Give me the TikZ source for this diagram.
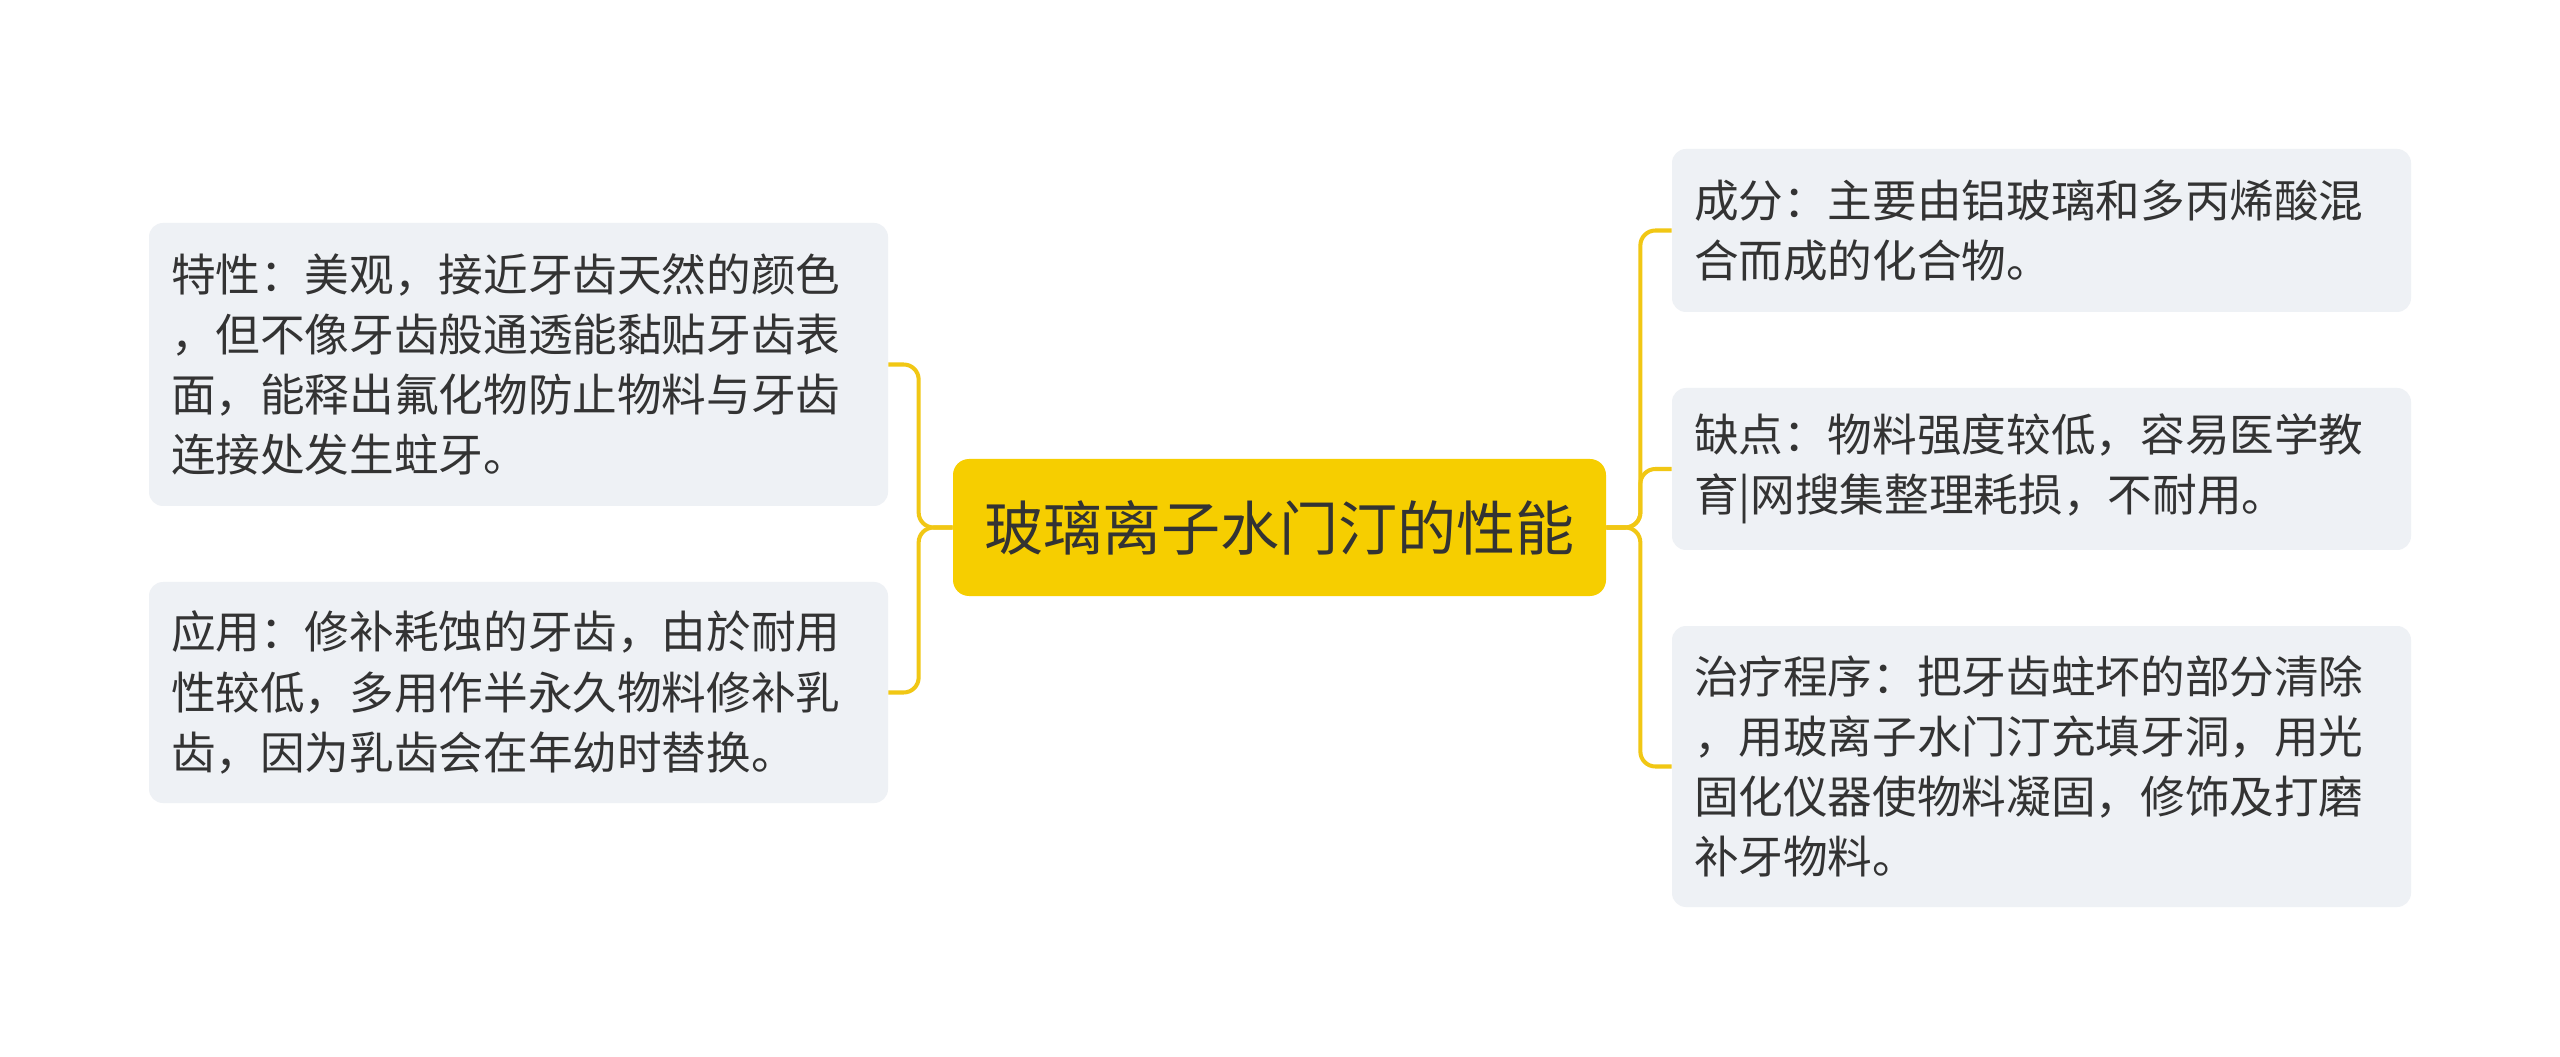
\documentclass[tikz,border=0pt]{standalone}
\usepackage{fontspec}
\usepackage{xcolor}
\usepackage{tikz}
\usetikzlibrary{positioning, calc}
\setmainfont{Noto Sans CJK SC}
\definecolor{rootyellow}{RGB}{246, 206, 0}
\definecolor{linkyellow}{RGB}{241, 199, 20}
\definecolor{leafgray}{RGB}{238, 241, 245}
\definecolor{textgray}{RGB}{51, 51, 51}

\begin{document}
\begin{tikzpicture}[
    leaf/.style={rectangle, rounded corners=0.28cm, fill=leafgray, minimum width=14.78cm, text width=13.9cm, align=left, inner sep=0pt, text=textgray, font=\fontsize{25.4pt}{34.2pt}\selectfont},
    root/.style={rectangle, rounded corners=0.32cm, fill=rootyellow, minimum width=13.06cm, minimum height=2.74cm, text=textgray, font=\fontsize{33.6pt}{40pt}\selectfont},
    link/.style={linkyellow, line width=2.3pt, rounded corners=0.3cm}
]
    \useasboundingbox[fill=white] (0,0) rectangle (51.2,-21.14);

    % Root
    \node[root] (glass) at (25.59,-10.55) {玻璃离子水门汀的性能};

    % Left branches
    \node[leaf, minimum height=5.66cm] (trait) at (10.37,-7.29) {特性：美观，接近牙齿天然的颜色\\，但不像牙齿般通透能黏贴牙齿表\\面，能释出氟化物防止物料与牙齿\\连接处发生蛀牙。};
    \node[leaf, minimum height=4.42cm] (usage) at (10.37,-13.85) {应用：修补耗蚀的牙齿，由於耐用\\性较低，多用作半永久物料修补乳\\齿，因为乳齿会在年幼时替换。};

    % Right branches
    \node[leaf, minimum height=3.26cm] (makeup) at (40.83,-4.61) {成分：主要由铝玻璃和多丙烯酸混\\合而成的化合物。};
    \node[leaf, minimum height=3.24cm] (weakness) at (40.83,-9.38) {缺点：物料强度较低，容易医学教\\育|网搜集整理耗损，不耐用。};
    \node[leaf, minimum height=5.62cm] (treatment) at (40.83,-15.33) {治疗程序：把牙齿蛀坏的部分清除\\，用玻离子水门汀充填牙洞，用光\\固化仪器使物料凝固，修饰及打磨\\补牙物料。};

    % Links to the left
    \draw[link] (glass.west) -- ++(-0.68,0) |- (trait.east);
    \draw[link] (glass.west) -- ++(-0.68,0) |- (usage.east);

    % Links to the right
    \draw[link] (glass.east) -- ++(0.68,0) |- (makeup.west);
    \draw[link] (glass.east) -- ++(0.68,0) |- (weakness.west);
    \draw[link] (glass.east) -- ++(0.68,0) |- (treatment.west);

\end{tikzpicture}
\end{document}
